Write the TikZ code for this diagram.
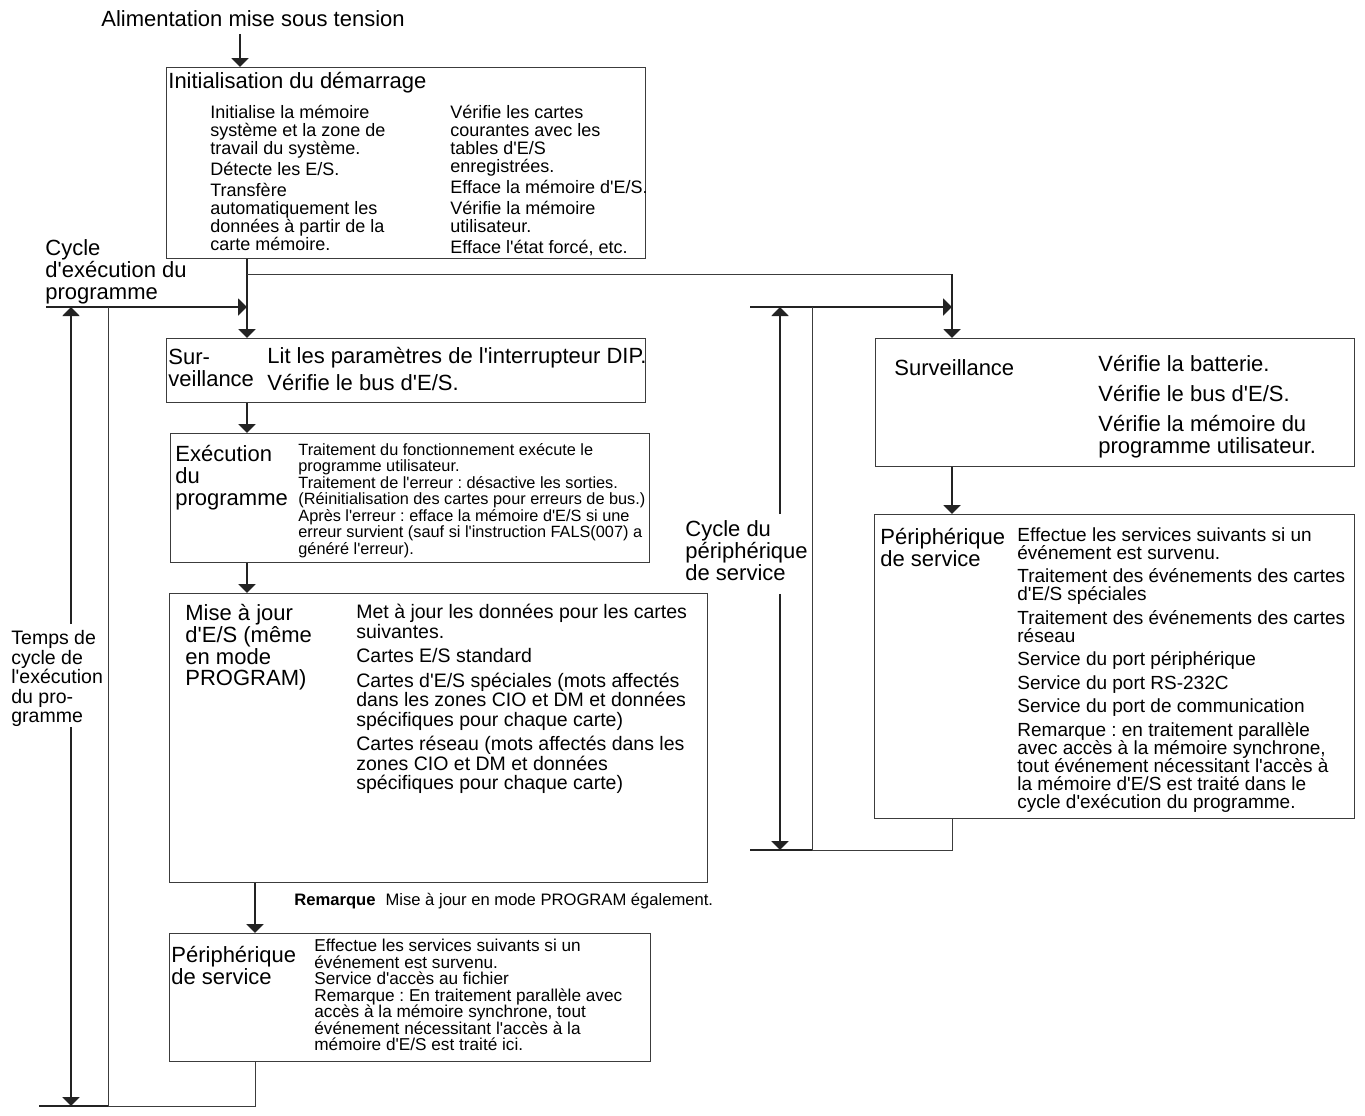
\documentclass[tikz,border=0pt]{standalone}
\usepackage{fontspec}
\setmainfont{Liberation Sans}[Ligatures=TeXOff]
\usetikzlibrary{arrows.meta, positioning}
\definecolor{linegray}{RGB}{35,35,35}
\definecolor{boxgray}{RGB}{60,60,60}
\newcommand{\fsz}[2]{\fontsize{#1}{#2}\selectfont\lineskiplimit=-20pt\lineskip=0pt}
\frenchspacing

\begin{document}
\begin{tikzpicture}[
    x=0.5pt, y=-0.5pt,
    box/.style={draw=boxgray, line width=0.6pt, inner sep=0pt, anchor=north west},
    head/.style={anchor=north west, inner sep=0pt, align=left, font=\fsz{11}{11}},
    body/.style={anchor=north west, inner sep=0pt, align=left, font=\fsz{9}{9}},
    mid/.style={anchor=north west, inner sep=0pt, align=left, font=\fsz{9.75}{9.75}},
    note/.style={anchor=north west, inner sep=0pt, align=left, font=\fsz{8.3}{8.25}},
    flow/.style={draw=linegray, line width=1pt, -{Triangle[width=8.5pt,length=4.5pt]}},
    thinline/.style={draw=boxgray, line width=0.5pt},
    tickline/.style={draw=linegray, line width=0.8pt}
]
    \useasboundingbox (0,0) rectangle (1365,1115);

    % Columns of the connectors
    \coordinate (ax) at (240,0);
    \coordinate (lx) at (247,0);
    \coordinate (lx2) at (255,0);
    \coordinate (rx) at (952,0);
    \coordinate (la) at (71,0);
    \coordinate (ra) at (780,0);

    % Power on and start-up
    \node[head, inner ysep=3.5pt] (power) at (101,3) {Alimentation mise sous tension};
    \node[box, minimum width=239.5pt, minimum height=95.5pt] (init) at (166,67) {};
    \node[head] (inittitle) at (168,72) {Initialisation du démarrage};
    \node[body] (initleft) at (210,105) {Initialise la mémoire\\système et la zone de\\travail du système.\\[1.5pt]Détecte les E/S.\\[1.5pt]Transfère\\automatiquement les\\données à partir de la\\carte mémoire.};
    \node[body] (initright) at (450,105) {Vérifie les cartes\\courantes avec les\\tables d'E/S\\enregistrées.\\[1.5pt]Efface la mémoire d'E/S.\\[1.5pt]Vérifie la mémoire\\utilisateur.\\[1.5pt]Efface l'état forcé, etc.};

    % Program execution cycle
    \node[box, minimum width=239.5pt, minimum height=32pt] (sur) at (166,338) {};
    \node[head] (surname) at (168,349) {Sur-\\veillance};
    \node[head] (surtext) at (267,347) {Lit les paramètres de l'interrupteur DIP.\\[2.5pt]Vérifie le bus d'E/S.};

    \node[box, minimum width=239.5pt, minimum height=64.5pt] (exe) at (170,433) {};
    \node[head] (exename) at (175,445) {Exécution\\du\\programme};
    \node[note, font=\fsz{8.15}{8.25}] (exetext) at (298,443) {Traitement du fonctionnement exécute le\\programme utilisateur.\\Traitement de l'erreur : désactive les sorties.\\(Réinitialisation des cartes pour erreurs de bus.)\\Après l'erreur : efface la mémoire d'E/S si une\\erreur survient (sauf si l'instruction FALS(007) a\\généré l'erreur).};

    \node[box, minimum width=269pt, minimum height=144.5pt] (mise) at (169,593) {};
    \node[head, font=\fsz{11}{10.85}] (misename) at (185,604) {Mise à jour\\d'E/S (même\\en mode\\PROGRAM)};
    \node[mid] (misetext) at (356,604) {Met à jour les données pour les cartes\\suivantes.\\[2.5pt]Cartes E/S standard\\[2.5pt]Cartes d'E/S spéciales (mots affectés\\dans les zones CIO et DM et données\\spécifiques pour chaque carte)\\[2.5pt]Cartes réseau (mots affectés dans les\\zones CIO et DM et données\\spécifiques pour chaque carte)};
    \node[note] (remark) at (294,893) {\textbf{Remarque}\hspace{5pt}Mise à jour en mode PROGRAM également.};

    \node[box, minimum width=240.5pt, minimum height=64pt] (peri) at (169,933) {};
    \node[head] (periname) at (171,946) {Périphérique\\de service};
    \node[note, font=\fsz{8.6}{8.25}] (peritext) at (314,939) {Effectue les services suivants si un\\événement est survenu.\\Service d'accès au fichier\\Remarque : En traitement parallèle avec\\accès à la mémoire synchrone, tout\\événement nécessitant l'accès à la\\mémoire d'E/S est traité ici.};

    % Peripheral servicing cycle
    \node[box, minimum width=239.5pt, minimum height=64pt] (survR) at (875,338) {};
    \node[head] (survRname) at (894,359) {Surveillance};
    \node[head] (survRtext) at (1098,355) {Vérifie la batterie.\\[4pt]Vérifie le bus d'E/S.\\[4pt]Vérifie la mémoire du\\programme utilisateur.};

    \node[box, minimum width=240pt, minimum height=152pt] (periR) at (874,514) {};
    \node[head] (periRname) at (880,528) {Périphérique\\de service};
    \node[anchor=north west, inner sep=0pt, align=left, font=\fsz{9.5}{9}] (periRtext) at (1017,527) {Effectue les services suivants si un\\événement est survenu.\\[2.75pt]Traitement des événements des cartes\\d'E/S spéciales\\[2.75pt]Traitement des événements des cartes\\réseau\\[2.75pt]Service du port périphérique\\[2.75pt]Service du port RS-232C\\[2.75pt]Service du port de communication\\[2.75pt]Remarque : en traitement parallèle\\avec accès à la mémoire synchrone,\\tout événement nécessitant l'accès à\\la mémoire d'E/S est traité dans le\\cycle d'exécution du programme.};

    % Cycle labels
    \node[head] (cycleL) at (45,239) {Cycle\\d'exécution du\\programme};
    \node[mid] (tcycle) at (11,630) {Temps de\\cycle de\\l'exécution\\du pro-\\gramme};
    \node[head] (cycleR) at (685,520) {Cycle du\\périphérique\\de service};

    % Flow
    \draw[flow] (power.south -| ax) -- (init.north -| ax);
    \draw[flow] (init.south -| lx) -- (sur.north -| lx);
    \coordinate (split) at (247,274);
    \draw[thinline] (split) -- (split -| rx);
    \draw[flow] (split -| rx) -- (survR.north -| rx);
    \draw[flow] (sur.south -| lx) -- (exe.north -| lx);
    \draw[flow] (exe.south -| lx) -- (mise.north -| lx);
    \draw[flow] (mise.south -| lx2) -- (peri.north -| lx2);
    \draw[flow] (survR.south -| rx) -- (periR.north -| rx);

    % Left loop
    \coordinate (ltop) at (108,307);
    \coordinate (lbot) at (108,1106);
    \coordinate (ltick) at (46,307);
    \coordinate (lbtick) at (39,1106);
    \draw[flow] (ltop) -- (ltop -| lx);
    \draw[thinline] (ltop) -- (lbot);
    \draw[thinline] (peri.south -| lx2) |- (lbot);
    \draw[tickline] (ltick) -- (ltop);
    \draw[tickline] (lbtick) -- (lbot);
    \draw[flow, shorten <=3pt] (tcycle.north -| la) -- (ltop -| la);
    \draw[flow] (tcycle.south -| la) -- (lbot -| la);

    % Right loop
    \coordinate (rtop) at (812,307);
    \coordinate (rbot) at (812,850);
    \coordinate (rtick) at (750,307);
    \coordinate (rbtick) at (750,850);
    \draw[flow] (rtop) -- (rtop -| rx);
    \draw[thinline] (rtop) -- (rbot);
    \draw[thinline] (periR.south -| rx) |- (rbot);
    \draw[tickline] (rtick) -- (rtop);
    \draw[tickline] (rbtick) -- (rbot);
    \draw[flow, shorten <=3pt] (cycleR.north -| ra) -- (rtop -| ra);
    \draw[flow, shorten <=6.5pt] (cycleR.south -| ra) -- (rbot -| ra);
\end{tikzpicture}
\end{document}
